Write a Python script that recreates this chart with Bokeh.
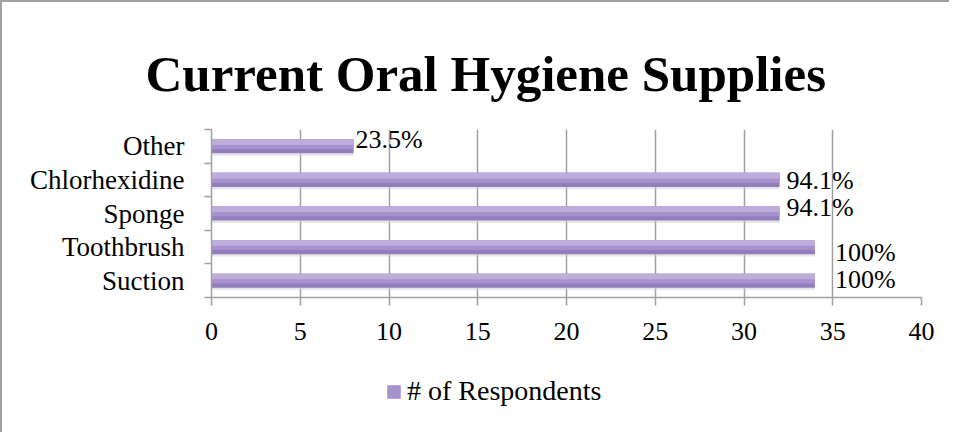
from bokeh.plotting import figure
from bokeh.layouts import column
from bokeh.models import ColumnDataSource, FixedTicker, Legend, LegendItem
from bokeh.core.properties import value
from bokeh.embed import file_html
from bokeh.resources import INLINE

# ---- data (bottom to top) ----
categories = ["Suction", "Toothbrush", "Sponge", "Chlorhexidine", "Other"]
respondents = [34, 34, 32, 32, 8]
pct_labels = ["100%", "100%", "94.1%", "94.1%", "23.5%"]
x_ticks = [0, 5, 10, 15, 20, 25, 30, 35, 40]
series_name = "# of Respondents"
# label nudges (screen px), as placed in the original chart
label_dx = [20, 20, 7, 7, 2]
label_dy = [-1, 5, -6, 1, -7]

FONT = "Liberation Serif"
GRAY = "#a0a0a0"
BORDER = "2px solid #a0a0a0"

centers = [i + 0.5 for i in range(len(categories))]
bar_h = 0.42

src = ColumnDataSource(dict(
    y=centers,
    right=respondents,
    y_mid=[c + bar_h * 0.15 for c in centers],
    y_hi=[c + bar_h * 0.30 for c in centers],
    y_shadow=[c - 0.07 for c in centers],
    label=pct_labels,
    dx=label_dx,
    dy=label_dy,
))

p = figure(width=949, height=355, output_backend="svg", toolbar_location=None,
           x_range=(0, 40), y_range=(0, len(categories)),
           min_border_left=209, min_border_right=30, min_border_top=127,
           min_border_bottom=60)
p.styles = {"border-left": BORDER, "border-top": BORDER}
p.outline_line_color = None
p.background_fill_color = "white"
p.border_fill_color = "white"

# grid
p.ygrid.grid_line_color = None
p.xgrid.grid_line_color = GRAY
p.xgrid.grid_line_width = 1.5
p.xgrid.ticker = FixedTicker(ticks=x_ticks)

# shadow
p.hbar(y="y_shadow", right="right", left=0, height=bar_h, source=src,
       fill_color="#cfcfcf", fill_alpha=0.5, line_color=None)
# main bar (darker lower tone)
p.hbar(y="y", right="right", left=0, height=bar_h, source=src,
       fill_color="#947dbd", line_color=None)
# graded lighter upper tones
p.hbar(y="y_mid", right="right", left=0, height=bar_h * 0.70, source=src,
       fill_color="#a892cd", line_color=None)
p.hbar(y="y_hi", right="right", left=0, height=bar_h * 0.40, source=src,
       fill_color="#bdacdc", line_color=None)

# data labels
p.text(x="right", y="y", text="label", x_offset="dx", y_offset="dy", source=src,
       text_font=value(FONT), text_font_size="26px", text_color="black",
       text_baseline="middle", text_align="left")

# x axis
xa = p.xaxis[0]
xa.ticker = FixedTicker(ticks=x_ticks)
xa.axis_line_color = GRAY
xa.axis_line_width = 1.5
xa.major_tick_line_color = GRAY
xa.major_tick_line_width = 1.5
xa.major_tick_out = 8
xa.major_tick_in = 0
xa.minor_tick_line_color = None
xa.major_label_text_font = FONT
xa.major_label_text_font_size = "26px"
xa.major_label_text_color = "black"
xa.major_label_standoff = 17

# y axis
ya = p.yaxis[0]
ya.ticker = FixedTicker(ticks=centers, minor_ticks=list(range(len(categories) + 1)))
ya.major_label_overrides = {c: name for c, name in zip(centers, categories)}
ya.axis_line_color = GRAY
ya.axis_line_width = 1.5
ya.major_tick_line_color = None
ya.major_tick_out = 0
ya.major_tick_in = 0
ya.minor_tick_line_color = GRAY
ya.minor_tick_line_width = 1.5
ya.minor_tick_out = 7
ya.minor_tick_in = 0
ya.major_label_text_font = FONT
ya.major_label_text_font_size = "27px"
ya.major_label_text_color = "black"
ya.major_label_standoff = 20

# title
p.title.text = "Current Oral Hygiene Supplies"
p.title.align = "left"
p.title.offset = -66
p.title.standoff = 56
p.title.text_font = FONT
p.title.text_font_size = "51px"
p.title.text_font_style = "bold"
p.title.text_color = "black"

# ---- legend strip under the chart ----
# (its y range lies far from the data, so the series only supplies the swatch)
lg = figure(width=949, height=77, output_backend="svg", toolbar_location=None,
            x_range=(0, 40), y_range=(100, 101),
            min_border_left=0, min_border_right=0, min_border_top=0,
            min_border_bottom=0)
lg.styles = {"border-left": BORDER}
lg.axis.visible = False
lg.grid.grid_line_color = None
lg.outline_line_color = None
lg.background_fill_color = "white"
lg.border_fill_color = "white"
swatch = lg.hbar(y="y", right="right", left=0, height=bar_h, source=src,
                 fill_color="#a791cc", line_color=None)

legend = Legend(items=[LegendItem(label=series_name, renderers=[swatch])],
                location=(174, 25), orientation="horizontal",
                glyph_width=17, glyph_height=17, label_standoff=5,
                label_text_font=FONT, label_text_font_size="28px",
                label_text_color="black",
                padding=0, margin=0, spacing=0, border_line_color=None,
                background_fill_alpha=0)
lg.add_layout(legend, "center")

page = column(p, lg, spacing=0)

open("out.html", "w").write(file_html(page, INLINE))
